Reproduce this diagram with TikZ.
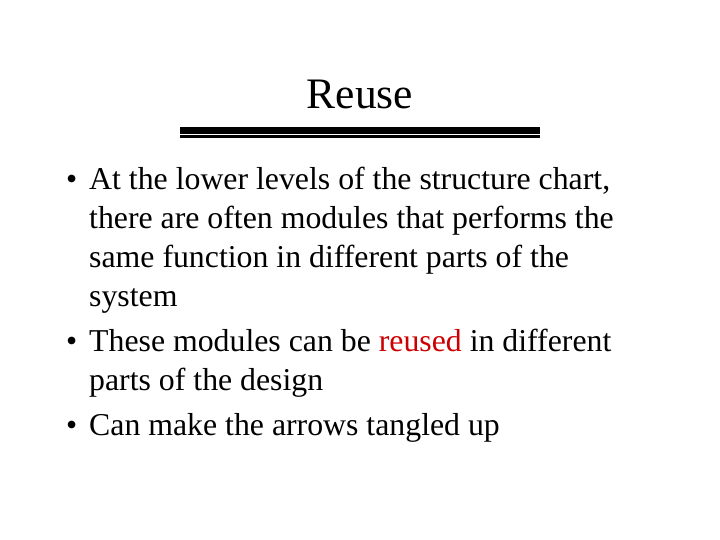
\documentclass[tikz,border=0pt]{standalone}
\usepackage{fontspec}
\setmainfont{Liberation Serif}
\begin{document}
\begin{tikzpicture}[x=1pt,y=-1pt,
  body/.style={anchor=base west,inner sep=0pt,font=\fontsize{31.8}{36}\selectfont},
  bar/.style={fill=black,draw=none}]
\useasboundingbox (0,0) rectangle (720,540);
\node[anchor=base,inner sep=0pt,font=\fontsize{43.5}{50}\selectfont] (title) at (360,109) {Reuse};
\fill[bar] (180,127) rectangle (540,134);
\fill[bar] (180,135.5) rectangle (540,138);
\node[body] (b1) at (66,190) {•};
\node[body] (l1) at (89,190) {At the lower levels of the structure chart,};
\node[body] (l2) at (89,229) {there are often modules that performs the};
\node[body] (l3) at (89,267) {same function in different parts of the};
\node[body] (l4) at (89,306) {system};
\node[body] (b2) at (66,351) {•};
\node[body] (l5) at (89,351) {These modules can be \textcolor{red!80!black}{reused} in different};
\node[body] (l6) at (89,390) {parts of the design};
\node[body] (b3) at (66,435) {•};
\node[body] (l7) at (89,435) {Can make the arrows tangled up};
\end{tikzpicture}
\end{document}
